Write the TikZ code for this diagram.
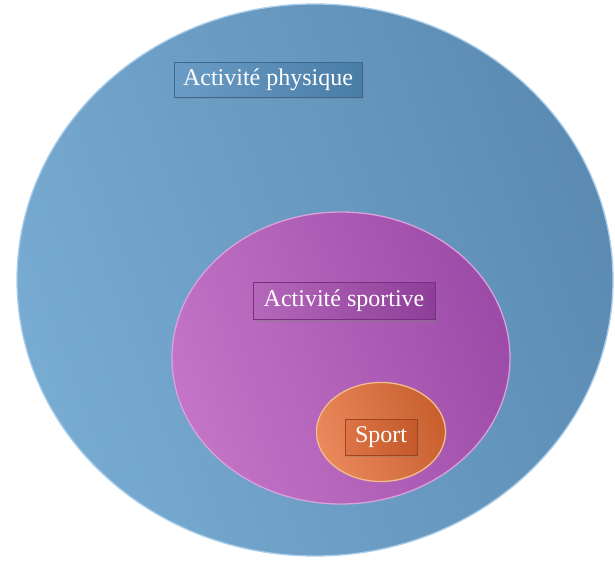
\documentclass[tikz,border=0pt]{standalone}
\usepackage{fontspec}
\setmainfont{Liberation Serif}
\usetikzlibrary{shapes.geometric,shadows}
\definecolor{blueA}{HTML}{78ABD2}
\definecolor{blueB}{HTML}{5B8BB2}
\definecolor{blueRim}{HTML}{A9CDEA}
\definecolor{purA}{HTML}{C474C6}
\definecolor{purB}{HTML}{9C4CA8}
\definecolor{purRim}{HTML}{D8A2DA}
\definecolor{orA}{HTML}{EA885C}
\definecolor{orB}{HTML}{C8602E}
\definecolor{orRim}{HTML}{F3BC8E}
\definecolor{lblBlueA}{HTML}{6A9CC6}
\definecolor{lblBlueB}{HTML}{4A7DA6}
\definecolor{lblBlueD}{HTML}{3B6890}
\definecolor{lblPurA}{HTML}{B468BA}
\definecolor{lblPurB}{HTML}{8E3E98}
\definecolor{lblPurD}{HTML}{763080}
\definecolor{lblOrA}{HTML}{DC7446}
\definecolor{lblOrB}{HTML}{C45A2C}
\definecolor{lblOrD}{HTML}{A04420}
\tikzset{
  setell/.style={ellipse, inner sep=0pt, line width=1.3pt},
  lbl/.style={rectangle, inner sep=2pt, line width=1pt, text=white,
    font=\fontsize{24}{26}\selectfont,
    drop shadow={opacity=0.35, shadow xshift=1.5pt, shadow yshift=-2pt}},
}
\begin{document}
\begin{tikzpicture}[x=1pt,y=-1pt]
\useasboundingbox (0,0) rectangle (615,561);
\fill[white] (0,0) rectangle (615,561);
\node[setell, draw=blueRim, left color=blueA, right color=blueB, shading angle=110,
  minimum width=596pt, minimum height=552pt] (phys) at (315,280) {};
\node[setell, draw=purRim, left color=purA, right color=purB, shading angle=110,
  minimum width=338pt, minimum height=292pt] (sportive) at (341,358) {};
\node[setell, draw=orRim, left color=orA, right color=orB, shading angle=110,
  minimum width=129pt, minimum height=99pt] (sport) at (381,432) {};
\node[lbl, draw=lblBlueD, left color=lblBlueA, right color=lblBlueB,
  minimum width=188pt, minimum height=35pt] (lphys) at (268,80) {Activité physique};
\node[lbl, draw=lblPurD, left color=lblPurA, right color=lblPurB,
  minimum width=182pt, minimum height=37pt] (lsportive) at (344,301) {Activité sportive};
\node[lbl, draw=lblOrD, left color=lblOrA, right color=lblOrB,
  minimum width=72pt, minimum height=36pt] (lsport) at (381,437) {Sport};
\end{tikzpicture}
\end{document}
